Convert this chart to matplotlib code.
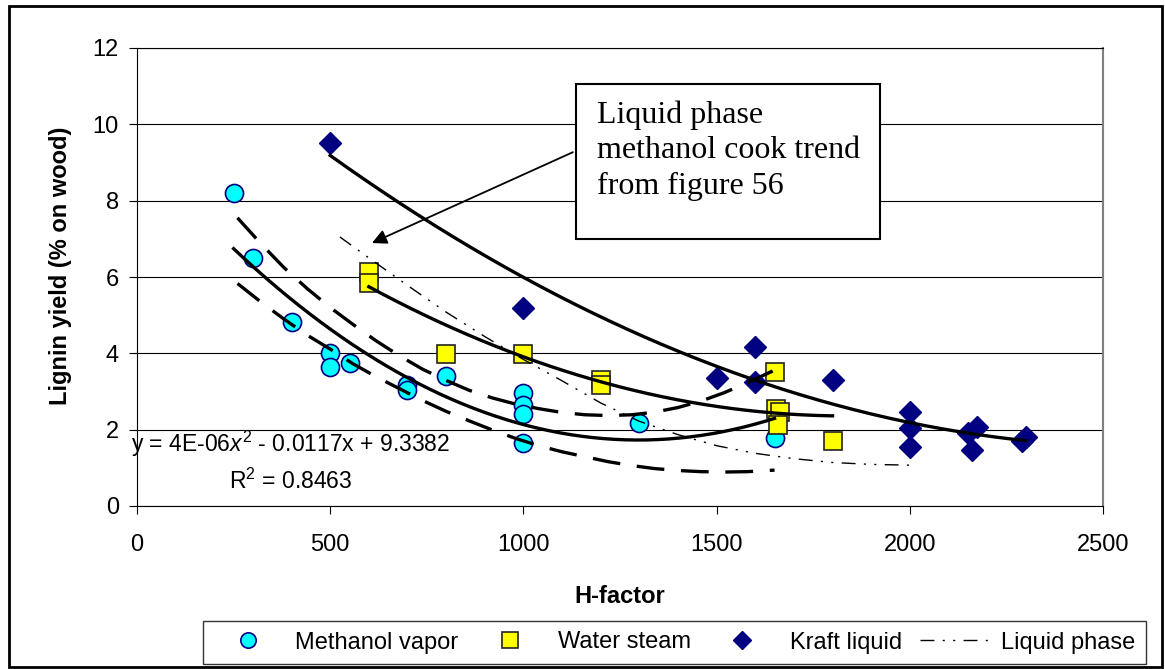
import numpy as np
import matplotlib.pyplot as plt
from matplotlib.patches import Rectangle

plt.rcParams['font.family'] = ['Liberation Sans', 'DejaVu Sans']
plt.rcParams['mathtext.fontset'] = 'custom'
plt.rcParams['mathtext.rm'] = 'Liberation Sans'
plt.rcParams['mathtext.it'] = 'Liberation Sans:italic'
plt.rcParams['lines.scale_dashes'] = False

# methanol vapor points
meth_x = [250, 300, 400, 500, 500, 550, 700, 700, 800, 1000, 1000, 1000, 1000, 1300, 1650]
meth_y = [8.2, 6.5, 4.82, 4.0, 3.64, 3.75, 3.17, 3.04, 3.4, 2.95, 2.65, 2.4, 1.65, 2.17, 1.78]

# water steam points
water_x = [600, 600, 800, 1000, 1200, 1200, 1650, 1655, 1665, 1660, 1800]
water_y = [6.13, 5.85, 3.98, 3.98, 3.3, 3.17, 3.5, 2.55, 2.45, 2.12, 1.7]

# kraft liquid points
kraft_x = [500, 1000, 1500, 1600, 1600, 1800, 2000, 2000, 2000, 2150, 2175, 2160, 2300, 2290]
kraft_y = [9.5, 5.2, 3.35, 4.17, 3.25, 3.3, 2.47, 2.04, 1.55, 1.9, 2.07, 1.47, 1.8, 1.7]

# dashed bounds around the methanol vapor trend
band_x = [260, 320, 380, 440, 500, 560, 620, 680, 740, 800, 860, 920, 980, 1040,
          1100, 1160, 1220, 1280, 1340, 1400, 1460, 1520, 1580, 1650]
upper_y = [7.55, 6.88, 6.25, 5.70, 5.20, 4.75, 4.32, 3.93, 3.58, 3.29, 3.03, 2.83, 2.67, 2.55,
           2.45, 2.39, 2.37, 2.39, 2.46, 2.58, 2.75, 2.97, 3.23, 3.56]
lower_y = [5.83, 5.35, 4.90, 4.48, 4.11, 3.72, 3.38, 3.07, 2.76, 2.48, 2.23, 1.99, 1.77, 1.58,
           1.42, 1.29, 1.16, 1.06, 0.98, 0.93, 0.90, 0.89, 0.90, 0.94]

# liquid phase methanol cook trend (figure 56)
liq_x = [525, 600, 700, 800, 900, 1000, 1100, 1200, 1300, 1400, 1500, 1600, 1700, 1800, 1900, 2000]
liq_y = [7.05, 6.50, 5.78, 5.08, 4.44, 3.84, 3.28, 2.70, 2.22, 1.87, 1.58, 1.38, 1.24, 1.14, 1.09, 1.07]

fig = plt.figure(figsize=(11.65, 6.69), dpi=100)
ax = fig.add_axes([137/1165, 1-506/669, 966/1165, 458/669])

ax.set_xlim(0, 2500)
ax.set_ylim(0, 12)
ax.set_xticks(np.arange(0, 2501, 500))
ax.set_yticks(np.arange(0, 13, 2))
ax.grid(axis='y', color='black', lw=0.8)
ax.set_axisbelow(True)
ax.tick_params(direction='out', length=6, width=0.8, labelsize=17)
ax.tick_params(axis='x', pad=14)
ax.tick_params(axis='y', pad=7)
for s in ['left', 'bottom', 'top']:
    ax.spines[s].set_color('black')
    ax.spines[s].set_linewidth(0.8)
ax.spines['right'].set_color('#808080')
ax.spines['right'].set_linewidth(1.5)

h1, = ax.plot(meth_x, meth_y, 'o', ms=13, mfc='#00FFFF', mec='#000080', mew=1.2,
              ls='none', label='Methanol vapor', zorder=3)
h2, = ax.plot(water_x, water_y, 's', ms=13, mfc='#FFFF00', mec='#222222', mew=1.2,
              ls='none', label='Water steam', zorder=3)
h3, = ax.plot(kraft_x, kraft_y, 'D', ms=11, mfc='#000080', mec='#000080',
              ls='none', label='Kraft liquid', zorder=3)

# 2nd order trend lines
for xx, yy in [(meth_x, meth_y), (water_x, water_y), (kraft_x, kraft_y)]:
    p = np.polyfit(xx, yy, 2)
    xs = np.linspace(min(xx), max(xx), 200)
    ax.plot(xs, np.polyval(p, xs), color='black', lw=2.4, zorder=4)

ax.plot(band_x, upper_y, color='black', lw=2.4, dashes=(20, 12), zorder=4)
ax.plot(band_x, lower_y, color='black', lw=2.4, dashes=(20, 12), zorder=4)

h4, = ax.plot(liq_x, liq_y, color='black', lw=1.0, dashes=(10, 6, 1.5, 6, 1.5, 6),
              label='Liquid phase', zorder=4)

ax.text(398, 1.62, r'y = 4E-06$x^2$ - 0.0117x + 9.3382', ha='center', va='center', fontsize=16.5)
ax.text(398, 0.65, r'R$^2$ = 0.8463', ha='center', va='center', fontsize=16.5)

# callout box
ax.add_patch(Rectangle((0.4545, 0.583), 0.3145, 0.3384, transform=ax.transAxes,
                       facecolor='white', edgecolor='black', lw=1.5, zorder=6))
ax.text(0.476, 0.885, 'Liquid phase\nmethanol cook trend\nfrom figure 56', transform=ax.transAxes,
        family='Liberation Serif', fontsize=23, va='top', ha='left', linespacing=1.28, zorder=7)
ax.annotate('', xy=(608, 6.89), xytext=(1128, 9.27),
            arrowprops=dict(arrowstyle='-|>', color='black', lw=1.3, mutation_scale=22,
                            shrinkA=0, shrinkB=0), zorder=5)

ax.set_xlabel('H-factor', fontsize=17, fontweight='bold')
ax.xaxis.set_label_coords(0.5, -0.172)
ax.set_ylabel('Lignin yield (% on wood)', fontsize=17, fontweight='bold')
ax.yaxis.set_label_coords(-0.067, 0.524)

leg = fig.legend(handles=[h1, h2, h3, h4], loc='center', bbox_to_anchor=(674.5/1165, 1-642.5/669),
                 ncol=4, fontsize=17, frameon=True, fancybox=False, edgecolor='black',
                 handlelength=2.9, handletextpad=0.55, columnspacing=0.75, borderpad=0.45,
                 markerscale=0.85)
leg.get_frame().set_linewidth(1.0)

fig.patches.append(Rectangle((0.0077, 0.003), 0.990, 0.988, transform=fig.transFigure,
                             fill=False, edgecolor='black', lw=2))

fig.savefig('out.png', dpi=100)
